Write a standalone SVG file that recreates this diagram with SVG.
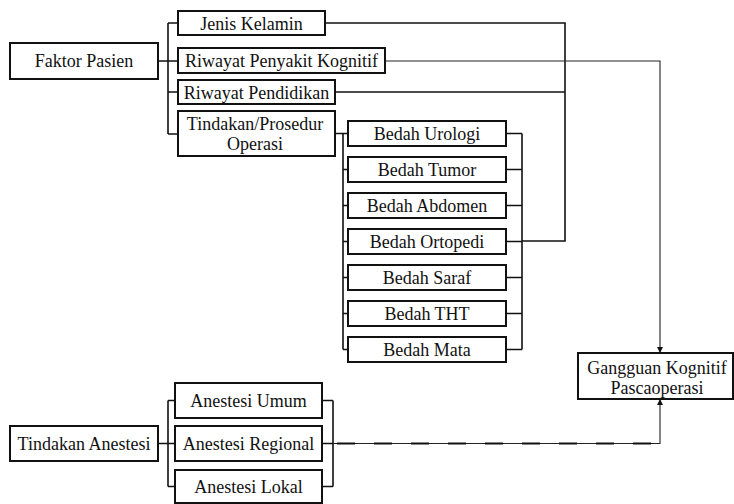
<svg xmlns="http://www.w3.org/2000/svg" width="734" height="504" viewBox="0 0 734 504">
<style>
.box{fill:#fff;stroke:#111;stroke-width:2}
.t{font-family:"Liberation Serif","Times New Roman",serif;font-size:18px;fill:#111;text-anchor:middle}
.ln{fill:none;stroke:#111;stroke-width:1.6}
.thin{fill:none;stroke:#222;stroke-width:1.1}
</style>
<defs>
<marker id="ah" viewBox="0 0 10 10" refX="10" refY="5" markerWidth="6" markerHeight="6" orient="auto" markerUnits="userSpaceOnUse">
<path d="M0,0 L10,5 L0,10 z" fill="#111"/>
</marker>
</defs>
<rect width="734" height="504" fill="#fff"/>
<g id="connectors">
<path class="ln" d="M158,61 H168 M168,23 V134 M168,23 H178 M168,61 H178 M168,92 H178 M168,134 H178"/>
<path class="ln" d="M325,23 H565 V241 H522"/>
<path class="ln" d="M335,92 H565"/>
<path class="thin" d="M385,61 H660 V353" marker-end="url(#ah)"/>
<path class="ln" d="M335,133.5 H343 M343,133.5 V349.5 M343,133.5 H348 M343,169.5 H348 M343,205.5 H348 M343,241.5 H348 M343,277.5 H348 M343,313.5 H348 M343,349.5 H348"/>
<path class="ln" d="M522,133.5 V349.5 M506,133.5 H522 M506,169.5 H522 M506,205.5 H522 M506,241.5 H522 M506,277.5 H522 M506,313.5 H522 M506,349.5 H522"/>
<path class="ln" d="M158,443.5 H168 M168,400.5 V486.5 M168,400.5 H175 M168,443.5 H175 M168,486.5 H175"/>
<path class="ln" d="M322,400.5 H333 M322,443.5 H333 M322,486.5 H333 M333,400.5 V486.5"/>
<path class="thin" d="M333,443.5 H660 V399" marker-end="url(#ah)"/>
<path fill="none" stroke="#111" stroke-width="2" stroke-dasharray="18 19" d="M337,443.5 H655"/>
</g>
<g id="faktor-pasien"><rect class="box" x="10" y="43" width="148" height="36"/><text class="t" x="84" y="67">Faktor Pasien</text></g>
<g id="jenis-kelamin"><rect class="box" x="178" y="11" width="147" height="24"/><text class="t" x="251.5" y="29.5">Jenis Kelamin</text></g>
<g id="riwayat-penyakit"><rect class="box" x="178" y="48" width="207" height="25"/><text class="t" x="281.5" y="67">Riwayat Penyakit Kognitif</text></g>
<g id="riwayat-pendidikan"><rect class="box" x="178" y="80" width="157" height="24"/><text class="t" x="256.5" y="98.5">Riwayat Pendidikan</text></g>
<g id="tindakan-operasi"><rect class="box" x="178" y="111" width="157" height="45"/><text class="t" x="255" y="129.5">Tindakan/Prosedur</text><text class="t" x="255" y="150">Operasi</text></g>
<g id="bedah-urologi"><rect class="box" x="348" y="121" width="158" height="25"/><text class="t" x="427" y="140">Bedah Urologi</text></g>
<g id="bedah-tumor"><rect class="box" x="348" y="157" width="158" height="25"/><text class="t" x="427" y="176">Bedah Tumor</text></g>
<g id="bedah-abdomen"><rect class="box" x="348" y="193" width="158" height="25"/><text class="t" x="427" y="212">Bedah Abdomen</text></g>
<g id="bedah-ortopedi"><rect class="box" x="348" y="229" width="158" height="25"/><text class="t" x="427" y="248">Bedah Ortopedi</text></g>
<g id="bedah-saraf"><rect class="box" x="348" y="265" width="158" height="25"/><text class="t" x="427" y="284">Bedah Saraf</text></g>
<g id="bedah-tht"><rect class="box" x="348" y="301" width="158" height="25"/><text class="t" x="427" y="320">Bedah THT</text></g>
<g id="bedah-mata"><rect class="box" x="348" y="337" width="158" height="25"/><text class="t" x="427" y="356">Bedah Mata</text></g>
<g id="gangguan-kognitif"><rect class="box" x="578" y="353" width="155" height="46"/><text class="t" x="657" y="373.5">Gangguan Kognitif</text><text class="t" x="657" y="394">Pascaoperasi</text></g>
<g id="tindakan-anestesi"><rect class="box" x="10" y="426" width="148" height="35"/><text class="t" x="84" y="449.5">Tindakan Anestesi</text></g>
<g id="anestesi-umum"><rect class="box" x="175" y="383" width="147" height="35"/><text class="t" x="248.5" y="406.5">Anestesi Umum</text></g>
<g id="anestesi-regional"><rect class="box" x="175" y="426" width="147" height="35"/><text class="t" x="248.5" y="449.5">Anestesi Regional</text></g>
<g id="anestesi-lokal"><rect class="box" x="175" y="470" width="147" height="33"/><text class="t" x="248.5" y="493">Anestesi Lokal</text></g>
</svg>
